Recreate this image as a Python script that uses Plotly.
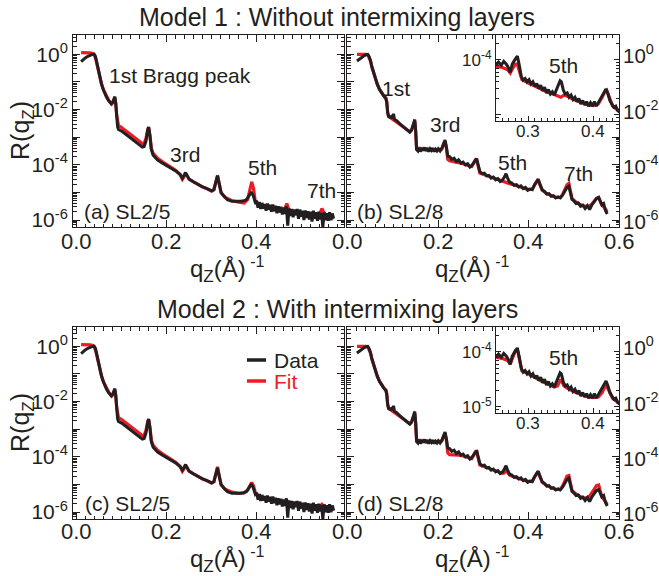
import numpy as np
import plotly.graph_objects as go

W, H = 659, 576
RED = "#ed1c24"
BLK = "#231f20"
FONT = "Liberation Sans, Arial, Helvetica, sans-serif"

# ---------------- data (q in 1/Angstrom, values are log10 R) ----------------
sl25_q = [0.010, 0.015, 0.020, 0.025, 0.030, 0.035, 0.039, 0.042, 0.045, 0.048, 0.051, 0.055, 0.058, 0.062,
          0.066, 0.070, 0.074, 0.077, 0.080, 0.083, 0.085, 0.087, 0.089, 0.091, 0.093, 0.100, 0.110, 0.120,
          0.130, 0.140, 0.146, 0.150, 0.154, 0.158, 0.160, 0.163, 0.166, 0.170, 0.175, 0.180, 0.190, 0.200,
          0.210, 0.220, 0.230, 0.235, 0.238, 0.242, 0.245, 0.250, 0.260, 0.270, 0.280, 0.290, 0.300, 0.305,
          0.309, 0.313, 0.317, 0.321, 0.328, 0.335, 0.345, 0.355, 0.365, 0.372, 0.378, 0.383, 0.388, 0.392,
          0.397,
          0.400, 0.403, 0.406, 0.409, 0.412, 0.415, 0.418, 0.421, 0.424, 0.427, 0.430, 0.433, 0.436, 0.439,
          0.442, 0.445, 0.448, 0.451, 0.454, 0.457, 0.460, 0.463, 0.466, 0.469, 0.472, 0.475, 0.478, 0.481,
          0.484, 0.487, 0.490, 0.493, 0.496, 0.499, 0.502, 0.505, 0.508, 0.511, 0.514, 0.517, 0.520, 0.523,
          0.526, 0.529, 0.532, 0.535, 0.538, 0.541, 0.544, 0.547, 0.550, 0.553, 0.556, 0.559, 0.562, 0.565,
          0.568, 0.571]
sl25_data = [-0.26, -0.18, -0.12, -0.07, -0.03, 0.00, 0.01, -0.08, -0.30, -0.55, -0.82, -1.05, -1.22, -1.40,
             -1.54, -1.65, -1.74, -1.79, -1.74, -1.55, -1.53, -1.80, -2.30, -2.62, -2.72, -2.78, -2.90, -3.03,
             -3.17, -3.30, -3.36, -3.34, -3.15, -2.75, -2.63, -2.95, -3.45, -3.65, -3.75, -3.83, -3.93, -4.02,
             -4.12, -4.22, -4.35, -4.48, -4.40, -4.28, -4.38, -4.52, -4.62, -4.72, -4.80, -4.86, -4.94, -4.90,
             -4.65, -4.40, -4.70, -5.00, -5.15, -5.26, -5.32, -5.33, -5.32, -5.30, -5.25, -5.12, -4.98, -5.10,
             -5.35,
             -5.30, -5.55, -5.35, -5.60, -5.38, -5.58, -5.42, -5.66, -5.40, -5.62, -5.45, -5.70, -5.44, -5.68,
             -5.48, -5.75, -5.50, -5.72, -5.52, -5.80, -5.55, -5.78, -5.50, -6.20, -5.58, -5.85, -5.60, -5.90,
             -5.62, -5.82, -5.60, -5.95, -5.62, -5.88, -5.66, -6.00, -5.65, -5.92, -5.68, -5.98, -5.70, -6.05,
             -5.66, -5.95, -5.72, -6.02, -5.70, -5.98, -5.74, -6.25, -5.72, -6.00, -5.75, -6.02, -5.72, -6.00,
             -5.76, -5.95]

fit_a_q = [0.010, 0.020, 0.030, 0.036, 0.040, 0.043, 0.046, 0.050, 0.055, 0.060, 0.066, 0.072, 0.078, 0.082,
           0.085, 0.087, 0.089, 0.091, 0.093, 0.100, 0.110, 0.120, 0.130, 0.140, 0.146, 0.150, 0.154, 0.158,
           0.160, 0.163, 0.166, 0.170, 0.175, 0.180, 0.190, 0.200, 0.210, 0.220, 0.230, 0.235, 0.238, 0.242,
           0.245, 0.250, 0.260, 0.270, 0.280, 0.290, 0.300, 0.305, 0.309, 0.313, 0.317, 0.321, 0.330, 0.345,
           0.360, 0.372, 0.380, 0.385, 0.389, 0.393, 0.397, 0.405, 0.420, 0.440, 0.455, 0.462, 0.467, 0.471,
           0.478, 0.500, 0.520, 0.535, 0.540, 0.545, 0.549, 0.555, 0.571]
fit_a = [0.06, 0.06, 0.05, 0.03, -0.05, -0.20, -0.45, -0.75, -1.05, -1.30, -1.52, -1.68, -1.80, -1.72,
         -1.58, -1.75, -2.20, -2.50, -2.58, -2.65, -2.77, -2.90, -3.03, -3.16, -3.23, -3.22, -3.05, -2.72,
         -2.65, -2.95, -3.40, -3.58, -3.68, -3.76, -3.88, -3.98, -4.08, -4.20, -4.35, -4.52, -4.45, -4.30,
         -4.38, -4.52, -4.62, -4.72, -4.80, -4.87, -4.95, -4.90, -4.65, -4.38, -4.70, -5.02, -5.18, -5.30,
         -5.35, -5.38, -5.25, -4.90, -4.62, -4.85, -5.35, -5.50, -5.56, -5.62, -5.68, -5.62, -5.40, -5.60,
         -5.75, -5.80, -5.85, -5.87, -5.78, -5.58, -5.72, -5.90, -5.92]

fit_c_q = fit_a_q
fit_c = [0.06, 0.06, 0.05, 0.03, -0.05, -0.20, -0.45, -0.75, -1.05, -1.30, -1.52, -1.68, -1.80, -1.72,
         -1.58, -1.75, -2.20, -2.50, -2.58, -2.65, -2.77, -2.90, -3.03, -3.16, -3.23, -3.22, -3.05, -2.72,
         -2.65, -2.95, -3.40, -3.58, -3.68, -3.76, -3.88, -3.98, -4.08, -4.20, -4.35, -4.52, -4.45, -4.30,
         -4.38, -4.52, -4.62, -4.72, -4.80, -4.87, -4.95, -4.90, -4.62, -4.36, -4.72, -5.02, -5.17, -5.28,
         -5.32, -5.30, -5.20, -5.05, -4.93, -5.05, -5.30, -5.45, -5.52, -5.60, -5.66, -5.64, -5.58, -5.66,
         -5.72, -5.78, -5.82, -5.85, -5.80, -5.72, -5.80, -5.86, -5.90]

sl28_q = [0.020, 0.025, 0.030, 0.035, 0.040, 0.044, 0.047, 0.050, 0.053, 0.056, 0.060, 0.065, 0.070, 0.075,
          0.080, 0.084, 0.086, 0.088, 0.090, 0.093, 0.096, 0.099, 0.101, 0.103, 0.108, 0.114, 0.120, 0.126,
          0.132, 0.137, 0.141, 0.145, 0.148, 0.150, 0.152, 0.155, 0.158, 0.161, 0.164, 0.167, 0.170, 0.173,
          0.176, 0.179, 0.182, 0.185, 0.188, 0.191, 0.194, 0.197, 0.200, 0.204, 0.208, 0.212, 0.215, 0.218,
          0.221, 0.225, 0.230, 0.235, 0.240, 0.245, 0.250, 0.255, 0.260, 0.265, 0.270, 0.274, 0.278, 0.282,
          0.285, 0.289, 0.292, 0.297, 0.302, 0.307, 0.312, 0.317, 0.322, 0.327, 0.332, 0.337, 0.342, 0.346,
          0.350, 0.354, 0.358, 0.363, 0.368, 0.373, 0.378, 0.383, 0.388, 0.393, 0.398, 0.403, 0.408, 0.413,
          0.418, 0.421, 0.425, 0.430, 0.435, 0.440, 0.445, 0.450, 0.455, 0.460, 0.465, 0.470, 0.475, 0.480,
          0.485, 0.489, 0.492, 0.496, 0.500, 0.505, 0.510, 0.515, 0.520, 0.525, 0.530, 0.535, 0.540, 0.545,
          0.550, 0.555, 0.558, 0.562, 0.566, 0.570, 0.574]
sl28_data = [-0.24, -0.17, -0.11, -0.06, -0.01, 0.00, -0.08, -0.22, -0.45, -0.63, -0.85, -1.08, -1.27, -1.42,
             -1.52, -1.60, -1.75, -2.10, -2.25, -2.28, -2.25, -2.32, -2.15, -2.35, -2.40, -2.50, -2.58, -2.68,
             -2.76, -2.82, -2.75, -2.55, -2.36, -2.75, -3.45, -3.50, -3.38, -3.52, -3.40, -3.48, -3.37, -3.50,
             -3.40, -3.52, -3.42, -3.48, -3.40, -3.52, -3.44, -3.50, -3.42, -3.50, -3.40, -3.22, -3.10, -3.35,
             -3.68, -3.70, -3.80, -3.76, -3.88, -3.82, -3.94, -3.90, -4.00, -3.96, -4.08, -4.03, -3.92, -3.80,
             -3.77, -4.05, -4.24, -4.32, -4.30, -4.40, -4.38, -4.48, -4.44, -4.54, -4.50, -4.60, -4.55, -4.45,
             -4.32, -4.50, -4.63, -4.66, -4.74, -4.72, -4.80, -4.76, -4.86, -4.82, -4.92, -4.88, -4.90, -4.72,
             -4.56, -4.52, -4.70, -4.90, -4.96, -5.06, -5.04, -5.14, -5.12, -5.20, -5.16, -5.20, -5.10, -4.95,
             -4.82, -4.77, -5.00, -5.25, -5.30, -5.40, -5.38, -5.50, -5.46, -5.58, -5.48, -5.62, -5.45, -5.35,
             -5.22, -5.18, -5.28, -5.45, -5.40, -5.65, -5.78]

fit_b_q = [0.020, 0.030, 0.040, 0.045, 0.048, 0.050, 0.053, 0.056, 0.060, 0.065, 0.070, 0.075, 0.080, 0.084,
           0.086, 0.088, 0.090, 0.095, 0.100, 0.108, 0.114, 0.120, 0.126, 0.132, 0.137, 0.141, 0.145, 0.148,
           0.150, 0.152, 0.160, 0.180, 0.200, 0.208, 0.212, 0.215, 0.218, 0.221, 0.225, 0.235, 0.245, 0.255,
           0.265, 0.274, 0.278, 0.282, 0.285, 0.289, 0.292, 0.302, 0.312, 0.322, 0.332, 0.342, 0.346, 0.350,
           0.354, 0.358, 0.368, 0.378, 0.388, 0.398, 0.408, 0.413, 0.418, 0.421, 0.425, 0.430, 0.440, 0.450,
           0.460, 0.470, 0.475, 0.480, 0.485, 0.489, 0.492, 0.496, 0.505, 0.515, 0.525, 0.535, 0.540, 0.545,
           0.550, 0.555, 0.558, 0.562, 0.570, 0.574]
fit_b = [0.00, 0.00, 0.00, -0.05, -0.15, -0.25, -0.45, -0.63, -0.85, -1.08, -1.27, -1.42, -1.52, -1.58,
         -1.70, -2.10, -2.24, -2.30, -2.36, -2.43, -2.52, -2.60, -2.68, -2.75, -2.80, -2.72, -2.55, -2.42,
         -2.80, -3.40, -3.40, -3.42, -3.45, -3.42, -3.25, -3.15, -3.40, -3.80, -3.85, -3.88, -3.92, -3.96,
         -4.02, -4.06, -3.95, -3.82, -3.82, -4.10, -4.30, -4.36, -4.42, -4.48, -4.54, -4.60, -4.62, -4.66,
         -4.66, -4.68, -4.73, -4.78, -4.84, -4.89, -4.88, -4.72, -4.56, -4.52, -4.72, -4.92, -5.04, -5.12,
         -5.18, -5.18, -5.08, -4.90, -4.72, -4.67, -4.95, -5.22, -5.35, -5.45, -5.50, -5.48, -5.42, -5.32,
         -5.22, -5.18, -5.28, -5.45, -5.60, -5.70]

fit_d_q = fit_b_q
fit_d = [0.00, 0.00, 0.00, -0.05, -0.15, -0.25, -0.45, -0.63, -0.85, -1.08, -1.27, -1.42, -1.52, -1.58,
         -1.70, -2.10, -2.24, -2.30, -2.36, -2.43, -2.52, -2.60, -2.68, -2.75, -2.80, -2.72, -2.55, -2.42,
         -2.80, -3.40, -3.40, -3.42, -3.45, -3.42, -3.25, -3.15, -3.40, -3.85, -3.92, -3.92, -3.94, -3.97,
         -4.02, -4.06, -3.95, -3.82, -3.80, -4.10, -4.30, -4.36, -4.42, -4.48, -4.54, -4.60, -4.58, -4.45,
         -4.58, -4.66, -4.73, -4.78, -4.84, -4.89, -4.88, -4.72, -4.56, -4.52, -4.72, -4.92, -5.04, -5.12,
         -5.18, -5.18, -5.06, -4.88, -4.70, -4.68, -4.95, -5.22, -5.35, -5.45, -5.50, -5.42, -5.30, -5.15,
         -5.04, -5.02, -5.20, -5.45, -5.62, -5.72]

inset_q = [0.250, 0.254, 0.258, 0.262, 0.266, 0.269, 0.272, 0.275, 0.278, 0.281, 0.283, 0.286, 0.289, 0.292,
           0.295, 0.298, 0.301, 0.304, 0.307, 0.310, 0.313, 0.316, 0.319, 0.322, 0.325, 0.328, 0.331, 0.334,
           0.337, 0.340, 0.343, 0.346, 0.349, 0.351, 0.354, 0.357, 0.360, 0.363, 0.366, 0.369, 0.372, 0.375,
           0.378, 0.381, 0.384, 0.387, 0.390, 0.393, 0.396, 0.399, 0.402, 0.405, 0.408, 0.411, 0.414, 0.417,
           0.420, 0.423, 0.426, 0.429, 0.432, 0.435, 0.438, 0.441]
inset_data = [-4.09, -4.04, -4.10, -4.03, -4.08, -4.14, -4.23, -4.08, -4.02, -3.96, -3.93, -4.10, -4.30, -4.37,
              -4.34, -4.40, -4.36, -4.44, -4.40, -4.48, -4.43, -4.52, -4.46, -4.56, -4.50, -4.60, -4.54, -4.62,
              -4.58, -4.64, -4.56, -4.46, -4.38, -4.40, -4.55, -4.62, -4.60, -4.68, -4.64, -4.72, -4.68, -4.76,
              -4.70, -4.80, -4.74, -4.82, -4.76, -4.84, -4.78, -4.84, -4.76, -4.84, -4.78, -4.72, -4.66, -4.58,
              -4.53, -4.62, -4.74, -4.80, -4.86, -4.84, -4.92, -4.95]
inset_fit_q = [0.250, 0.260, 0.268, 0.272, 0.276, 0.280, 0.283, 0.286, 0.290, 0.300, 0.310, 0.320, 0.330, 0.340,
               0.345, 0.350, 0.355, 0.360, 0.370, 0.380, 0.390, 0.400, 0.408, 0.414, 0.418, 0.421, 0.425, 0.430,
               0.441]
inset_fit_b = [-4.12, -4.14, -4.18, -4.24, -4.15, -4.08, -4.08, -4.22, -4.36, -4.42, -4.48, -4.54, -4.59, -4.63,
               -4.65, -4.68, -4.64, -4.66, -4.72, -4.77, -4.81, -4.83, -4.80, -4.68, -4.58, -4.55, -4.70, -4.84,
               -4.94]
inset_fit_d = [-4.10, -4.12, -4.16, -4.22, -4.10, -3.98, -3.96, -4.15, -4.34, -4.40, -4.47, -4.53, -4.58, -4.64,
               -4.62, -4.50, -4.62, -4.66, -4.72, -4.77, -4.81, -4.83, -4.82, -4.74, -4.64, -4.62, -4.72, -4.84,
               -4.94]

main_x_ticks_left = [0.0, 0.2, 0.4]
main_x_ticks_right = [0.0, 0.2, 0.4, 0.6]
main_y_label_exps = [0, -2, -4, -6]
inset_x_ticks = [0.3, 0.4]

# ---------------- layout helpers ----------------
def px(x):
    return x / W

def py(y):
    return 1 - y / H

def R(v):
    return 10 ** np.array(v)

fig = go.Figure()

panels = [
    ("x", "y", sl25_q, sl25_data, fit_a_q, fit_a),
    ("x2", "y2", sl28_q, sl28_data, fit_b_q, fit_b),
    ("x3", "y3", sl25_q, sl25_data, fit_c_q, fit_c),
    ("x4", "y4", sl28_q, sl28_data, fit_d_q, fit_d),
    ("x5", "y5", inset_q, inset_data, inset_fit_q, inset_fit_b),
    ("x6", "y6", inset_q, inset_data, inset_fit_q, inset_fit_d),
]
for xa, ya, dq, dv, fq, fv in panels:
    fig.add_trace(go.Scatter(x=fq, y=R(fv), mode="lines", xaxis=xa, yaxis=ya,
                             line=dict(color=RED, width=3.2), showlegend=False, hoverinfo="skip"))
    fig.add_trace(go.Scatter(x=dq, y=R(dv), mode="lines", xaxis=xa, yaxis=ya,
                             line=dict(color=BLK, width=3), showlegend=False, hoverinfo="skip"))

minor_vals = [m * 10.0 ** k for k in range(-7, 1) for m in range(2, 10)]
main_yvals = [10.0 ** k for k in range(-6, 1)]
main_ytext = [f"10<sup>{k}</sup>" if k % 2 == 0 else "" for k in range(-6, 1)]

tickfont = dict(family=FONT, size=21, color=BLK)

def xaxis_cfg(dom, rng, vals, anchor):
    return dict(domain=[px(dom[0]), px(dom[1])], range=rng, anchor=anchor, automargin=False,
                showline=True, linecolor=BLK, linewidth=1, mirror="ticks",
                ticks="inside", ticklen=7, tickcolor=BLK, tickwidth=1,
                tickvals=vals, showticklabels=False,
                minor=dict(ticks="inside", dtick=0.02, tick0=0, ticklen=3.5, tickcolor=BLK),
                showgrid=False, zeroline=False, fixedrange=True)

def yaxis_cfg(dom, rng, anchor, side, labels=True):
    return dict(domain=[py(dom[1]), py(dom[0])], range=rng, type="log", anchor=anchor, side=side,
                automargin=False,
                showline=True, linecolor=BLK, linewidth=1, mirror="ticks",
                ticks="inside", ticklen=7, tickcolor=BLK, tickwidth=1,
                tickvals=main_yvals, ticktext=main_ytext, tickfont=tickfont, showticklabels=labels,
                minor=dict(ticks="inside", tickvals=minor_vals, ticklen=3.5, tickcolor=BLK),
                showgrid=False, zeroline=False, fixedrange=True)

YR = [-6.25, 0.70]
XL = [-0.008, 0.594]
XR = [-0.002, 0.600]
top, bot = (35, 227), (327, 519)
left, right = (73, 344), (347, 619)

lay = dict(
    xaxis=xaxis_cfg(left, XL, main_x_ticks_left, "y"),
    yaxis=yaxis_cfg(top, YR, "x", "left"),
    xaxis2=xaxis_cfg(right, XR, main_x_ticks_right, "y2"),
    yaxis2=yaxis_cfg(top, YR, "x2", "right", labels=False),
    xaxis3=xaxis_cfg(left, XL, main_x_ticks_left, "y3"),
    yaxis3=yaxis_cfg(bot, YR, "x3", "left"),
    xaxis4=xaxis_cfg(right, XR, main_x_ticks_right, "y4"),
    yaxis4=yaxis_cfg(bot, YR, "x4", "right", labels=False),
)

inset_font = dict(family=FONT, size=17, color=BLK)

def inset_x(dom, anchor):
    return dict(domain=[px(dom[0]), px(dom[1])], range=[0.25, 0.44], anchor=anchor, automargin=False,
                showline=True, linecolor=BLK, linewidth=1, mirror="ticks",
                ticks="inside", ticklen=5, tickcolor=BLK,
                tickvals=inset_x_ticks, showticklabels=False,
                minor=dict(ticks="inside", dtick=0.01, tick0=0, ticklen=3, tickcolor=BLK),
                showgrid=False, zeroline=False, fixedrange=True)

def inset_y(dom, anchor, labels):
    return dict(domain=[py(dom[1]), py(dom[0])], range=[-5.11, -3.55], type="log", anchor=anchor,
                automargin=False,
                showline=True, linecolor=BLK, linewidth=1, mirror="ticks",
                ticks="inside", ticklen=5, tickcolor=BLK,
                tickvals=[1e-5, 1e-4], ticktext=labels, tickfont=inset_font,
                minor=dict(ticks="inside", tickvals=minor_vals, ticklen=3, tickcolor=BLK),
                showgrid=False, zeroline=False, fixedrange=True)

lay["xaxis5"] = inset_x((496, 619), "y5")
lay["yaxis5"] = inset_y((35, 121), "x5", ["", "10<sup>-4</sup>"])
lay["xaxis6"] = inset_x((496, 619), "y6")
lay["yaxis6"] = inset_y((327, 413), "x6", ["10<sup>-5</sup>", "10<sup>-4</sup>"])

fig.update_layout(template="none", **lay)

# ---------------- text ----------------
def note(text, x, y, size=21, color=BLK, xanchor="center", angle=0):
    fig.add_annotation(text=text, x=px(x), y=py(y), xref="paper", yref="paper",
                       xanchor=xanchor, yanchor="middle", showarrow=False, textangle=angle,
                       font=dict(family=FONT, size=size, color=color))

# x tick labels, positioned on the axes' own scales
for xa, vals, ylab in (("x", main_x_ticks_left, 242), ("x2", main_x_ticks_right, 242),
                       ("x3", main_x_ticks_left, 531.5), ("x4", main_x_ticks_right, 531.5)):
    for v in vals:
        fig.add_annotation(text=f"{v:.1f}", x=v, xref=xa, y=py(ylab), yref="paper",
                           xanchor="center", yanchor="middle", showarrow=False,
                           font=dict(family=FONT, size=22, color=BLK))
for xa, ylab in (("x5", 131), ("x6", 423)):
    for v in inset_x_ticks:
        fig.add_annotation(text=f"{v:.1f}", x=v, xref=xa, y=py(ylab), yref="paper",
                           xanchor="center", yanchor="middle", showarrow=False,
                           font=dict(family=FONT, size=17, color=BLK))
# right-hand y tick labels of panels (b) and (d), on the log axes' scale
for ya in ("y2", "y4"):
    for k in main_y_label_exps:
        fig.add_annotation(text=f"10<sup>{k}</sup>", x=px(621), xref="paper", y=k, yref=ya,
                           xanchor="left", yanchor="middle", showarrow=False,
                           font=dict(family=FONT, size=20.5, color=BLK))

note("Model 1 : Without intermixing layers", 337, 17, size=25)
note("Model 2 : With intermixing layers", 337, 309, size=25)

SUBZ = "<sub><span style='font-size:17px'>Z</span></sub>"
SUP1 = "<sup><span style='font-size:16px'> -1</span></sup>"
for yc in (131, 423):
    note("R(q" + SUBZ + ")", 22, yc, size=25, angle=-90)
for xc, yc in ((227, 269), (472, 269), (227, 559.5), (472, 559.5)):
    note("q" + SUBZ + "(Å)" + SUP1, xc, yc, size=24)

note("1st Bragg peak", 180, 75)
note("3rd", 185, 154)
note("5th", 262, 167)
note("7th", 321, 190)
note("(a) SL2/5", 127, 211)
note("1st", 396, 88)
note("3rd", 445, 125)
note("5th", 512, 162)
note("7th", 578, 173)
note("(b) SL2/8", 400, 211)
note("5th", 563, 65)
note("(c) SL2/5", 127, 503)
note("(d) SL2/8", 400, 503)
note("5th", 563, 357)
note("Data", 272, 360, xanchor="left")
note("Fit", 272, 381, color=RED, xanchor="left")

fig.add_shape(type="line", xref="paper", yref="paper", x0=px(247), x1=px(266), y0=py(360), y1=py(360),
              line=dict(color=BLK, width=3.5))
fig.add_shape(type="line", xref="paper", yref="paper", x0=px(247), x1=px(266), y0=py(381), y1=py(381),
              line=dict(color=RED, width=3.5))

fig.update_layout(width=W, height=H, margin=dict(l=0, r=0, t=0, b=0, autoexpand=False),
                  paper_bgcolor="white", plot_bgcolor="white", showlegend=False,
                  font=dict(family=FONT, color=BLK))

fig.write_html("out.html", config={"displayModeBar": False},
               post_script="document.body.style.margin='0';document.body.style.padding='0';")
